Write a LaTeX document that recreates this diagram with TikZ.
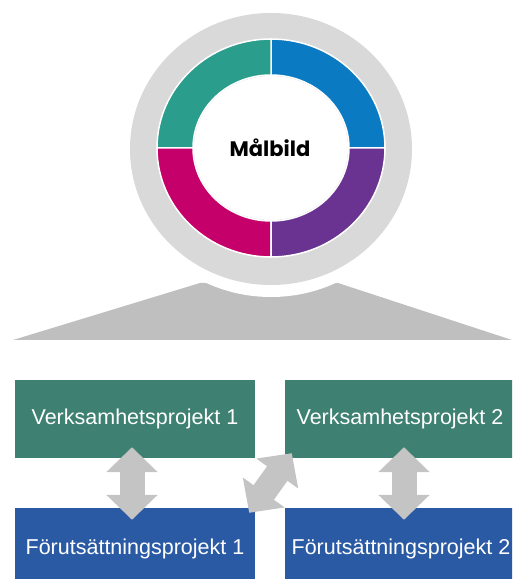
\documentclass[tikz,border=0pt]{standalone}
\usepackage{fontspec}
\setmainfont{Liberation Sans}
\newfontfamily\popfont{Poppins}
\usetikzlibrary{arrows.meta,calc}
\definecolor{vgreen}{HTML}{3E8072}
\definecolor{fblue}{HTML}{2B5AA5}
\definecolor{ringteal}{HTML}{2A9D8C}
\definecolor{ringblue}{HTML}{0A7BC2}
\definecolor{ringmag}{HTML}{C5006A}
\definecolor{ringpurple}{HTML}{6A3391}
\definecolor{circgray}{HTML}{D9D9D9}
\definecolor{trapgray}{HTML}{BFBFBF}
\definecolor{arrgray}{HTML}{C4C4C4}
\begin{document}
\begin{tikzpicture}[x=1pt,y=1pt,
  boxtext/.style={text=white, inner sep=0pt, font=\fontsize{21.5}{24}\selectfont},
  vbx/.style={boxtext, fill=vgreen, minimum width=240pt, minimum height=78pt},
  fbx/.style={boxtext, fill=fblue, minimum width=240pt, minimum height=81pt},
  seg/.style={fill=#1, draw=white, line width=1.5pt},
  dbl/.style={draw=arrgray, line width=25pt,
    {Triangle[length=25pt,width=50pt]}-{Triangle[length=25pt,width=50pt]}}]
\useasboundingbox (0,0) rectangle (512,579);
\clip (0,0) rectangle (512,579);
% trapezoid
\fill[trapgray] (13,239) -- (512,239) -- (338,296) -- (200,296) -- cycle;
% halo and gray disc
\coordinate (c) at (271,431);
\fill[white] (271,430) ellipse [x radius=152pt, y radius=148pt];
\fill[circgray] (271,430) ellipse [x radius=141pt, y radius=136pt];
% ring segments
\foreach \a/\col in {0/ringblue, 90/ringteal, 180/ringmag, 270/ringpurple}{
  \filldraw[seg=\col] ($(c)+(\a:114pt and 109pt)$)
    arc[start angle=\a, end angle=\a+90, x radius=114pt, y radius=109pt]
    -- ($(c)+({\a+90}:78pt and 73pt)$)
    arc[start angle=\a+90, end angle=\a, x radius=78pt, y radius=73pt] -- cycle;
}
\fill[white] (c) ellipse [x radius=77pt, y radius=72pt];
\node[font=\popfont\bfseries\fontsize{21}{24}\selectfont, anchor=base, inner sep=0pt] (mal) at (270,422) {Målbild};
% boxes
\node[vbx] (v1) at (135,160) {Verksamhetsprojekt 1};
\node[vbx, minimum width=230pt] (v2) at (400,160) {Verksamhetsprojekt 2};
\node[fbx] (f1) at (135,30.5) {Förutsättningsprojekt 1};
\node[fbx, minimum width=232pt] (f2) at (401,30.5) {Förutsättningsprojekt 2};
% arrows
\draw[dbl] ([shift={(-3,11)}]v1.south) -- ([shift={(-3,-12)}]f1.north);
\draw[dbl] ([shift={(4,11)}]v2.south) -- ([shift={(3,-12)}]f2.north);
\draw[dbl] ([shift={(-6,-5)}]f1.north east) -- ([shift={(7,5)}]v2.south west);
\end{tikzpicture}
\end{document}
